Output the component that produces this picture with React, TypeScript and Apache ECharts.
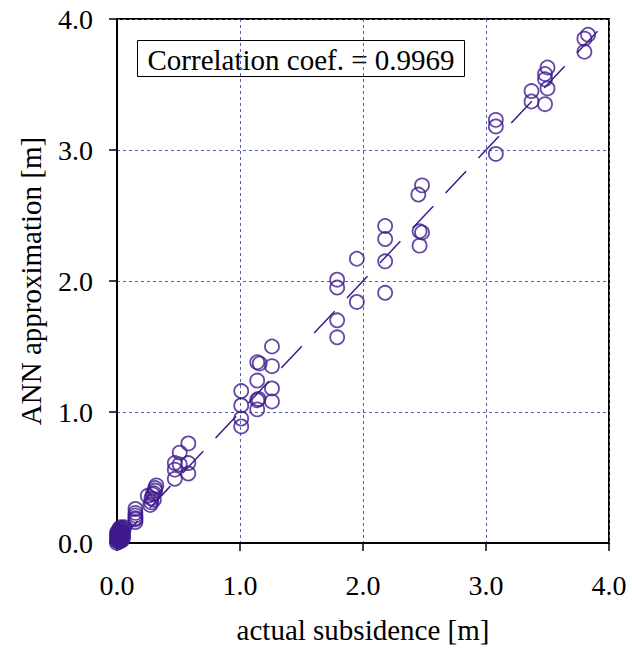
import React, { useEffect, useRef } from "react";
import * as echarts from "echarts";

const actual: number[] = [
  3.80, 3.83, 3.80,
  3.50, 3.48, 3.48, 3.50, 3.48, 3.37, 3.37,
  3.08, 3.08, 3.08,
  2.48, 2.45, 2.46, 2.48, 2.46,
  2.18, 2.18, 1.95, 2.18, 1.79, 1.79, 1.95, 2.18, 1.79, 1.79,
  1.26, 1.14, 1.16, 1.26, 1.14, 1.26, 1.01, 1.15, 1.14, 1.26, 1.01, 1.14, 1.01, 1.01,
  0.58, 0.51, 0.47, 0.51, 0.58, 0.47, 0.58, 0.47,
  0.32, 0.31, 0.30, 0.28, 0.27, 0.25, 0.31, 0.29, 0.30, 0.28,
  0.15, 0.15, 0.15, 0.15, 0.15, 0.15,
  0.00, 0.01, 0.01, 0.02, 0.02, 0.02, 0.03, 0.03, 0.03, 0.04, 0.04, 0.05, 0.05,
  0.00, 0.01, 0.02, 0.03, 0.04, 0.05, 0.06, 0.01, 0.02, 0.03, 0.04,
  0.00, 0.00, 0.01, 0.02, 0.01, 0.03, 0.00, 0.02, 0.04, 0.05,
];

const predicted: number[] = [
  3.85, 3.88, 3.75,
  3.63, 3.58, 3.54, 3.47, 3.35, 3.45, 3.37,
  3.23, 3.18, 2.97,
  2.73, 2.66, 2.38, 2.37, 2.27,
  2.42, 2.32, 2.17, 2.15, 2.01, 1.95, 1.84, 1.91, 1.70, 1.57,
  1.50, 1.38, 1.37, 1.35, 1.24, 1.18, 1.16, 1.10, 1.09, 1.08, 1.05, 1.02, 0.95, 0.89,
  0.76, 0.69, 0.61, 0.60, 0.61, 0.56, 0.53, 0.49,
  0.44, 0.40, 0.38, 0.34, 0.29, 0.36, 0.42, 0.37, 0.33, 0.31,
  0.26, 0.23, 0.19, 0.16, 0.21, 0.18,
  0.02, 0.03, 0.05, 0.04, 0.07, 0.09, 0.05, 0.08, 0.10, 0.07, 0.09, 0.08, 0.11,
  0.04, 0.06, 0.02, 0.03, 0.04, 0.06, 0.12, 0.09, 0.11, 0.12, 0.11,
  0.00, 0.06, 0.01, 0.01, 0.08, 0.02, 0.08, 0.06, 0.02, 0.04,
];

const fitLine: number[][] = [
  [0, 0],
  [4, 4],
];

const ticks: number[] = [0, 1, 2, 3, 4];
const xTitle = "actual subsidence [m]";
const yTitle = "ANN approximation [m]";
const corrLabel = "Correlation coef. = 0.9969";

const PURPLE = "#3f1a8c";
const FONT = "Liberation Serif";

export default function App() {
  const ref = useRef<HTMLDivElement>(null);

  useEffect(() => {
    if (!ref.current) return;
    const chart = echarts.init(ref.current, undefined, { renderer: "svg" });
    const points = actual.map((x, i) => [x, predicted[i]]);
    const axisCommon = {
      type: "value" as const,
      min: ticks[0],
      max: ticks[ticks.length - 1],
      interval: 1,
      axisLine: { show: true, lineStyle: { color: "#000", width: 2 } },
      axisTick: { show: true, inside: false, length: 8, lineStyle: { color: "#000", width: 1.5 } },
      splitLine: { show: true, lineStyle: { color: "#4b5fc0", type: [3, 3], width: 1 } },
      nameLocation: "middle" as const,
      nameTextStyle: { fontFamily: FONT, fontSize: 29, color: "#000" },
    };
    chart.setOption({
      animation: false,
      backgroundColor: "#fff",
      grid: {
        left: 117,
        right: 23,
        top: 19,
        bottom: 110,
        show: true,
        borderColor: "#000",
        borderWidth: 2,
        backgroundColor: "transparent",
      },
      xAxis: {
        ...axisCommon,
        name: xTitle,
        nameGap: 72,
        axisLabel: {
          margin: 28,
          fontFamily: FONT,
          fontSize: 28,
          color: "#000",
          formatter: (v: number) => v.toFixed(1),
        },
      },
      yAxis: {
        ...axisCommon,
        name: yTitle,
        nameGap: 72,
        axisLabel: {
          margin: 24,
          fontFamily: FONT,
          fontSize: 28,
          color: "#000",
          formatter: (v: number) => v.toFixed(1),
        },
      },
      series: [
        {
          type: "line",
          data: fitLine,
          symbol: "none",
          silent: true,
          lineStyle: { color: PURPLE, width: 1.5, type: [30, 18] },
          z: 1,
        },
        {
          type: "scatter",
          data: points,
          symbol: "circle",
          symbolSize: 14,
          clip: false,
          itemStyle: { color: "transparent", borderColor: PURPLE, borderWidth: 1.8 },
          z: 2,
        },
      ],
      graphic: [
        {
          type: "group",
          left: 137,
          top: 40,
          children: [
            {
              type: "rect",
              shape: { x: 0, y: 0, width: 327, height: 36 },
              style: { fill: "#fff", stroke: "#000", lineWidth: 1 },
            },
            {
              type: "text",
              x: 163.5,
              y: 19,
              style: {
                text: corrLabel,
                fontFamily: FONT,
                fontSize: 29,
                fill: "#000",
                align: "center",
                verticalAlign: "middle",
              },
            },
          ],
        },
      ],
    });
    return () => chart.dispose();
  }, []);

  return <div ref={ref} style={{ width: 632, height: 653, position: "absolute", left: 0, top: 0 }} />;
}
